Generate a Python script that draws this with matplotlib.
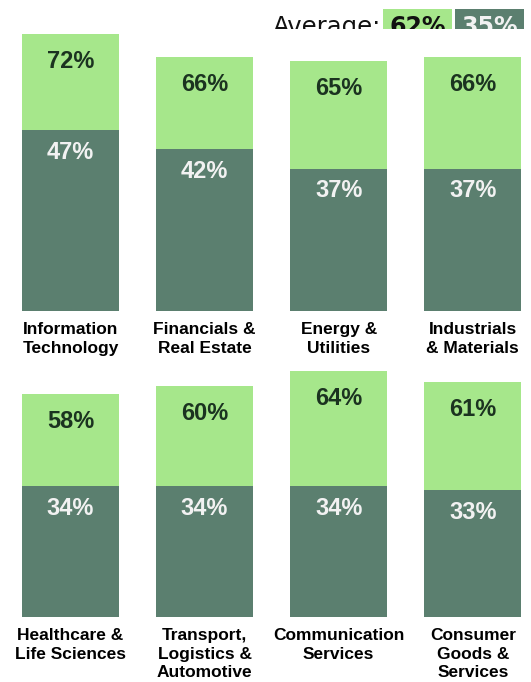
import matplotlib.pyplot as plt
from matplotlib.patches import Rectangle

# sector groups, two rows of four
top_labels = ["Information\nTechnology", "Financials &\nReal Estate",
              "Energy &\nUtilities", "Industrials\n& Materials"]
top_high = [72, 66, 65, 66]
top_low = [47, 42, 37, 37]

bottom_labels = ["Healthcare &\nLife Sciences", "Transport,\nLogistics &\nAutomotive",
                 "Communication\nServices", "Consumer\nGoods &\nServices"]
bottom_high = [58, 60, 64, 61]
bottom_low = [34, 34, 34, 33]

avg_high = 62
avg_low = 35

LIGHT = "#a6e78b"
DARK = "#5b7f6f"
W, H = 531, 682
PX_PER_PCT = 3.85

fig = plt.figure(figsize=(W / 100, H / 100), dpi=100)
fig.patch.set_facecolor("white")


def draw_row(base_px, top_px, labels, high, low):
    ax = fig.add_axes([0, (H - base_px) / H, 1, (base_px - top_px) / H])
    ax.set_xlim(-70.5 / 134.1, (W - 70.5) / 134.1)
    ax.set_ylim(0, (base_px - top_px) / PX_PER_PCT)
    ax.axis("off")
    xs = range(len(labels))
    ax.bar(xs, high, width=0.723, color=LIGHT, clip_on=False)
    ax.bar(xs, low, width=0.723, color=DARK, clip_on=False)
    for i in xs:
        ax.annotate(f"{high[i]}%", (i, high[i]), xytext=(0, -20), textcoords="offset points",
                    ha="center", va="center", fontsize=17, fontweight="bold",
                    color="#1b3320", family="Liberation Sans")
        ax.annotate(f"{low[i]}%", (i, low[i]), xytext=(0, -16), textcoords="offset points",
                    ha="center", va="center", fontsize=17, fontweight="bold",
                    color="#f2f2f2", family="Liberation Sans")
        ax.annotate(labels[i], (i, 0), xytext=(0, -8), textcoords="offset points",
                    ha="center", va="top", fontsize=12.5, fontweight="bold",
                    color="black", family="Liberation Sans", linespacing=1.3,
                    annotation_clip=False)
    return ax


draw_row(311, 29, top_labels, top_high, top_low)
draw_row(617, 371, bottom_labels, bottom_high, bottom_low)

# header "Average:" with coloured boxes, cut off at the bottom
fig.text(273 / W, 1 - 34 / H, "Average:", ha="left", va="baseline",
         fontsize=17.5, color="#111111", family="DejaVu Sans")
fig.text(417.5 / W, 1 - 34 / H, f"{avg_high}%", ha="center", va="baseline",
         fontsize=17, fontweight="bold", color="#111111", family="DejaVu Sans",
         bbox=dict(boxstyle="square,pad=0.25", fc=LIGHT, ec="none"))
fig.text(489.5 / W, 1 - 34 / H, f"{avg_low}%", ha="center", va="baseline",
         fontsize=17, fontweight="bold", color="#f2f2f2", family="DejaVu Sans",
         bbox=dict(boxstyle="square,pad=0.25", fc=DARK, ec="none"))
fig.patches.append(Rectangle((130 / W, 1 - 46 / H), (W - 130) / W, 17 / H,
                             transform=fig.transFigure, fc="white", ec="none", zorder=10))

fig.savefig("out.png", dpi=100)
